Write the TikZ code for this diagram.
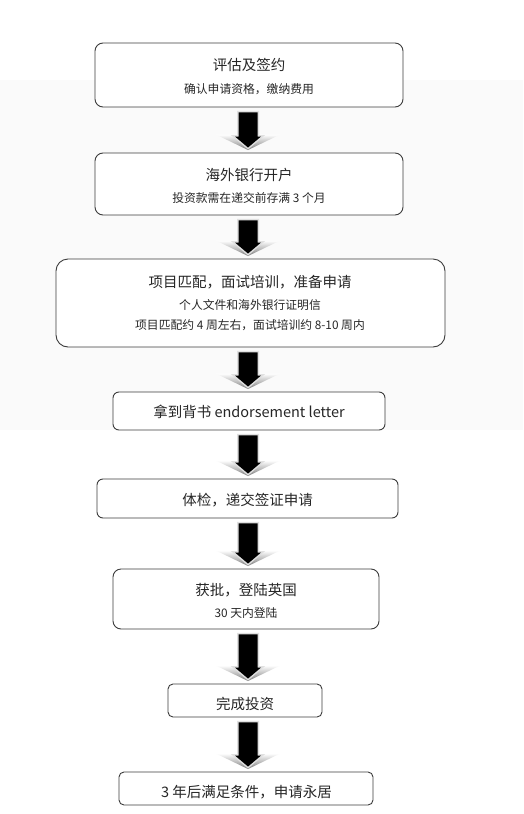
\documentclass[tikz,border=0pt]{standalone}
\usepackage{fontspec}
\setmainfont{Noto Sans CJK SC}
\usetikzlibrary{calc}
\definecolor{bgband}{HTML}{FAFAFA}
\definecolor{boxline}{HTML}{3C3C3C}
\definecolor{txt}{HTML}{262626}
\tikzset{
  flowbox/.style={draw=boxline, line width=0.9pt, fill=white, inner sep=0pt},
  ttl/.style={font=\fontsize{14.5pt}{17pt}\selectfont, text=txt, inner sep=0pt},
  subt/.style={font=\fontsize{11.8pt}{14pt}\selectfont, text=txt, inner sep=0pt},
}
\newcommand\flowarrow[2]{%
  \shade[top color=white, bottom color=black!50]
    let \p1=(#1.south), \p2=(#2.north) in
    (216pt,{\y2+18pt}) -- (280pt,{\y2+18pt}) -- (248pt,{\y2+2.5pt}) -- cycle;
  \fill[black, preaction={draw=black!12, line width=3pt, line join=miter}]
    let \p1=(#1.south), \p2=(#2.north) in
    (238.5pt,{\y1-5pt}) -- (257.5pt,{\y1-5pt}) -- (257.5pt,{\y2+16pt}) --
    (261pt,{\y2+16pt}) -- (248pt,{\y2+5pt}) -- (235pt,{\y2+16pt}) --
    (238.5pt,{\y2+16pt}) -- cycle;
}
\begin{document}
\begin{tikzpicture}[x=1pt, y=-1pt]
\useasboundingbox (0,0) rectangle (523,814);
\fill[white] (0,0) rectangle (523,814);
\fill[bgband] (0,80) rectangle (523,430);

% boxes
\node[flowbox, rounded corners=8pt, minimum width=308pt, minimum height=64pt] (b1) at (249,75) {};
\node[flowbox, rounded corners=8pt, minimum width=308pt, minimum height=62pt] (b2) at (249,184) {};
\node[flowbox, rounded corners=12pt, minimum width=389pt, minimum height=88pt] (b3) at (250.5,303) {};
\node[flowbox, rounded corners=6pt, minimum width=272pt, minimum height=38pt] (b4) at (249,411) {};
\node[flowbox, rounded corners=6pt, minimum width=301pt, minimum height=39pt] (b5) at (247.5,498.5) {};
\node[flowbox, rounded corners=8pt, minimum width=266pt, minimum height=60pt] (b6) at (246,599) {};
\node[flowbox, rounded corners=5pt, minimum width=154pt, minimum height=33pt] (b7) at (245,700.5) {};
\node[flowbox, rounded corners=5pt, minimum width=254pt, minimum height=33pt] (b8) at (246,788.5) {};

% texts
\node[ttl] (t1) at (249,65) {评估及签约};
\node[subt] (s1) at (249,89.5) {确认申请资格，缴纳费用};
\node[ttl] (t2) at (249,175) {海外银行开户};
\node[subt] (s2) at (249,198) {投资款需在递交前存满 3 个月};
\node[ttl] (t3) at (250,282) {项目匹配，面试培训，准备申请};
\node[subt] (s3a) at (250,305) {个人文件和海外银行证明信};
\node[subt] (s3b) at (250,325) {项目匹配约 4 周左右，面试培训约 8-10 周内};
\node[ttl] (t4) at (249,412) {拿到背书 endorsement letter};
\node[ttl] (t5) at (247.5,500) {体检，递交签证申请};
\node[ttl] (t6) at (246,590) {获批，登陆英国};
\node[subt] (s6) at (246,613) {30 天内登陆};
\node[ttl] (t7) at (245,704) {完成投资};
\node[ttl] (t8) at (246.5,792) {3 年后满足条件，申请永居};

% arrows
\flowarrow{b1}{b2}
\flowarrow{b2}{b3}
\flowarrow{b3}{b4}
\flowarrow{b4}{b5}
\flowarrow{b5}{b6}
\flowarrow{b6}{b7}
\flowarrow{b7}{b8}
\end{tikzpicture}
\end{document}
